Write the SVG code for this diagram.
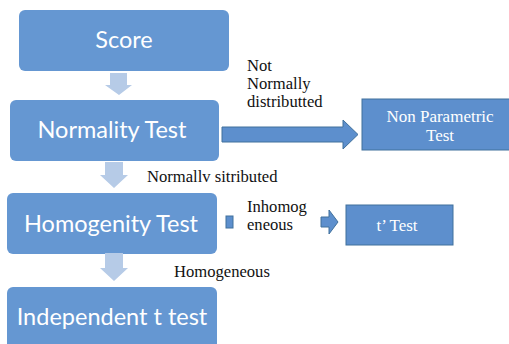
<svg xmlns="http://www.w3.org/2000/svg" width="509" height="344" viewBox="0 0 509 344">
<style>
.box{fill:#6597d2;}
.box2{fill:#5d8fcd;stroke:#41719c;stroke-width:1;}
.big{font-family:Lato,"Open Sans",sans-serif;font-size:23.5px;fill:#ffffff;text-anchor:middle;}
.lbl{font-size:16.6px;fill:#111111;}
.wt{font-size:17px;fill:#ffffff;text-anchor:middle;}
.la{fill:#b6cbe7;}
.da{fill:#5d8fcd;stroke:#41719c;stroke-width:1;}
</style>
<rect width="509" height="344" fill="#ffffff"/>
<g id="score"><rect class="box" x="19" y="10" width="210" height="61" rx="6"/><text class="big" x="124" y="48">Score</text></g>
<g id="normality"><rect class="box" x="10" y="100" width="209" height="61" rx="6"/><text class="big" x="112" y="138">Normality Test</text></g>
<g id="homogenity"><rect class="box" x="7" y="193" width="210" height="61" rx="6"/><text class="big" x="111" y="232">Homogenity Test</text></g>
<g id="independent"><rect class="box" x="7" y="287" width="210" height="70" rx="6"/><text class="big" x="112" y="325">Independent t test</text></g>
<g id="nonparametric" font-family="'Liberation Serif', 'DejaVu Serif', serif"><rect class="box2" x="362" y="99" width="160" height="51"/><text class="wt" x="440" y="122">Non Parametric</text><text class="wt" x="440" y="141">Test</text></g>
<g id="ttest" font-family="'Liberation Serif', 'DejaVu Serif', serif"><rect class="box2" x="346" y="205" width="107" height="40"/><text class="wt" x="397" y="231">t’ Test</text></g>
<g id="connectors">
<path class="la" d="M110,73 H127 V85 H132 L119,95 L105,85 H110 Z"/>
<path class="la" d="M105,162 H123 V175 H128 L114,188 L100,175 H105 Z"/>
<path class="la" d="M105,253 H123 V268 H128 L114,281 L100,268 H105 Z"/>
<path class="da" d="M222,127 H343 V120 L358,134.5 L343,149 V142 H222 Z"/>
<rect class="da" x="226" y="216" width="7" height="12"/>
<path class="da" d="M321,217 H329 V210 L338,222 L329,234 V227 H321 Z"/>
</g>
<g id="labels" font-family="'Liberation Serif', 'DejaVu Serif', serif">
<text class="lbl" x="247" y="71">Not</text>
<text class="lbl" x="247" y="89">Normally</text>
<text class="lbl" x="247" y="107">distributted</text>
<text class="lbl" x="147" y="182">Normallv sitributed</text>
<text class="lbl" x="247" y="212">Inhomog</text>
<text class="lbl" x="247" y="230">eneous</text>
<text class="lbl" x="174" y="277">Homogeneous</text>
</g>
</svg>
